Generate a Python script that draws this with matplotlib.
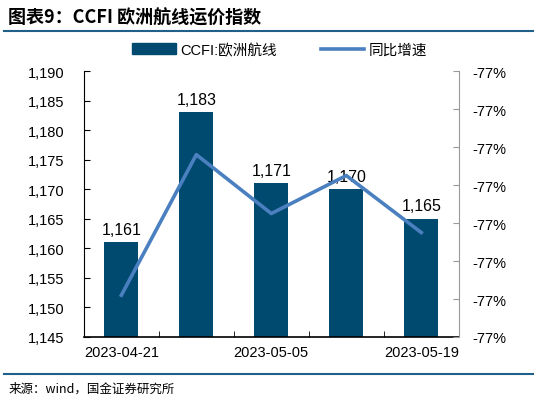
import matplotlib
matplotlib.use("Agg")
import matplotlib.pyplot as plt
from matplotlib.ticker import FuncFormatter, FixedLocator
from matplotlib.lines import Line2D

plt.rcParams['font.family'] = ['Liberation Sans', 'Noto Sans CJK SC', 'DejaVu Sans']

# data
dates = ['2023-04-21', '2023-04-28', '2023-05-05', '2023-05-12', '2023-05-19']
ccfi = [1161, 1183, 1171, 1170, 1165]
yoy = [-77.19, -76.82, -76.975, -76.875, -77.025]  # %
shown_ticks = ['2023-04-21', '2023-05-05', '2023-05-19']

bar_color = '#004a70'
line_color = '#4a80c0'
rule_color = '#1f5f8a'

fig = plt.figure(figsize=(5.41, 4.06), dpi=100)
ax = fig.add_axes([0.155, 0.1675, 0.693, 0.655])
ax2 = ax.twinx()

x = list(range(len(dates)))
ax.bar(x, ccfi, width=0.45, color=bar_color, zorder=2)
for xi, v in zip(x, ccfi):
    ax.text(xi, v + 0.9, f'{v:,}', ha='center', va='bottom', fontsize=11.5)

ax2.plot(x, yoy, color=line_color, lw=2.6, zorder=3)

ax.set_xlim(-0.5, len(dates) - 0.5)
ax.set_ylim(1145, 1190)
ax.set_yticks(range(1145, 1191, 5))
ax.yaxis.set_major_formatter(FuncFormatter(lambda v, p: f'{int(v):,}'))
ax2.set_ylim(-77.3, -76.6)
ax2.yaxis.set_major_locator(FixedLocator([-77.3 + 0.1 * i for i in range(8)]))
ax2.yaxis.set_major_formatter(FuncFormatter(lambda v, p: f'{v:.0f}%'))

ax.set_xticks([dates.index(d) for d in shown_ticks])
ax.set_xticklabels(shown_ticks)
ax.set_xticks([i + 0.5 for i in range(len(dates) - 1)], minor=True)
ax.tick_params(axis='x', which='major', length=0, labelsize=10.5, pad=6)
ax.tick_params(axis='x', which='minor', direction='in', length=4)
ax.tick_params(axis='y', direction='in', length=4, labelsize=10.5, pad=14)
ax2.tick_params(axis='y', direction='in', length=4, labelsize=10.5, pad=10, color='#999999')

ax.spines['top'].set_visible(False)
ax2.spines['top'].set_visible(False)
ax.spines['right'].set_visible(False)
ax2.spines['left'].set_visible(False)
ax2.spines['bottom'].set_visible(False)
ax2.spines['right'].set_color('#999999')
ax.spines['bottom'].set_linewidth(1.2)
ax.set_zorder(1)
ax2.set_zorder(2)
ax2.patch.set_visible(False)

handles = [plt.Rectangle((0, 0), 1, 1, color=bar_color),
           Line2D([0], [0], color=line_color, lw=2.6)]
fig.legend(handles, ['CCFI:欧洲航线', '同比增速'], loc='center', bbox_to_anchor=(0.517, 0.875),
           ncol=2, frameon=False, handlelength=3.0, handleheight=0.8,
           columnspacing=3.0, handletextpad=0.3,
           prop={'family': ['Liberation Sans', 'Noto Sans CJK SC'], 'size': 10.5})

fig.text(0.015, 0.955, '图表9：CCFI 欧洲航线运价指数', fontsize=13, fontweight='bold',
         family=['Noto Sans CJK SC', 'DejaVu Sans'], va='center', ha='left')
fig.add_artist(Line2D([0.008, 0.985], [0.921, 0.921], color=rule_color, lw=1.5))
fig.add_artist(Line2D([0.008, 0.985], [0.076, 0.076], color=rule_color, lw=1.5))
fig.text(0.015, 0.042, '来源：wind，国金证券研究所', fontsize=9,
         family=['Noto Sans CJK SC', 'DejaVu Sans'], va='center', ha='left')

fig.savefig('out.png', dpi=100)
